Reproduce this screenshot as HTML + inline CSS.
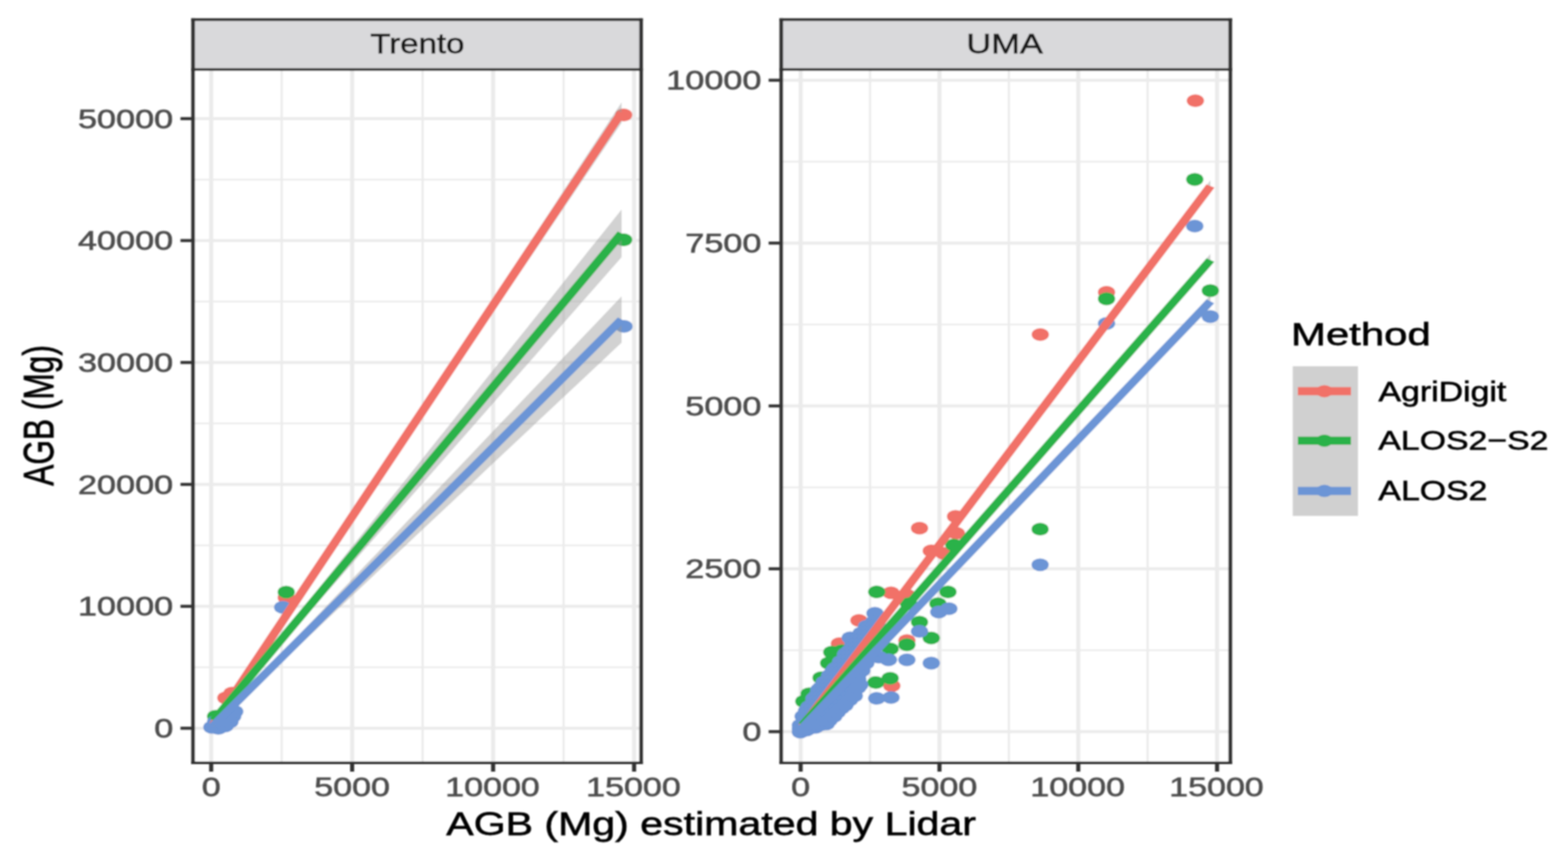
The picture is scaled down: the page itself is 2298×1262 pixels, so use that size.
<!DOCTYPE html>
<html><head><meta charset="utf-8"><title>AGB plot</title><style>html,body{margin:0;padding:0;background:#fff;}svg{display:block;}</style></head><body>
<svg width="2298" height="1262" viewBox="0 0 2298 1262" font-family="&quot;Liberation Sans&quot;, Arial, sans-serif">
<rect width="2298" height="1262" fill="#ffffff"/>
<defs><filter id="bl" x="-5%" y="-5%" width="110%" height="110%"><feGaussianBlur stdDeviation="1.2"/></filter></defs>
<g filter="url(#bl)">
<rect x="283.0" y="101.9" width="656.5" height="1016.1" fill="#ffffff"/>
<rect x="1145.0" y="101.9" width="658.0" height="1016.1" fill="#ffffff"/>
<rect x="411.20" y="101.9" width="3.2" height="1016.1" fill="#ebebeb"/>
<rect x="617.80" y="101.9" width="3.2" height="1016.1" fill="#ebebeb"/>
<rect x="824.40" y="101.9" width="3.2" height="1016.1" fill="#ebebeb"/>
<rect x="283.0" y="976.85" width="656.5" height="2.4" fill="#ebebeb"/>
<rect x="283.0" y="798.15" width="656.5" height="2.4" fill="#ebebeb"/>
<rect x="283.0" y="619.45" width="656.5" height="2.4" fill="#ebebeb"/>
<rect x="283.0" y="440.75" width="656.5" height="2.4" fill="#ebebeb"/>
<rect x="283.0" y="262.05" width="656.5" height="2.4" fill="#ebebeb"/>
<rect x="306.50" y="101.9" width="6.0" height="1016.1" fill="#ebebeb"/>
<rect x="513.10" y="101.9" width="6.0" height="1016.1" fill="#ebebeb"/>
<rect x="719.70" y="101.9" width="6.0" height="1016.1" fill="#ebebeb"/>
<rect x="926.30" y="101.9" width="6.0" height="1016.1" fill="#ebebeb"/>
<rect x="283.0" y="1065.20" width="656.5" height="4.4" fill="#ebebeb"/>
<rect x="283.0" y="886.50" width="656.5" height="4.4" fill="#ebebeb"/>
<rect x="283.0" y="707.80" width="656.5" height="4.4" fill="#ebebeb"/>
<rect x="283.0" y="529.10" width="656.5" height="4.4" fill="#ebebeb"/>
<rect x="283.0" y="350.40" width="656.5" height="4.4" fill="#ebebeb"/>
<rect x="283.0" y="171.70" width="656.5" height="4.4" fill="#ebebeb"/>
<rect x="1273.52" y="101.9" width="3.2" height="1016.1" fill="#ebebeb"/>
<rect x="1476.95" y="101.9" width="3.2" height="1016.1" fill="#ebebeb"/>
<rect x="1680.38" y="101.9" width="3.2" height="1016.1" fill="#ebebeb"/>
<rect x="1145.0" y="951.85" width="658.0" height="2.4" fill="#ebebeb"/>
<rect x="1145.0" y="713.15" width="658.0" height="2.4" fill="#ebebeb"/>
<rect x="1145.0" y="474.45" width="658.0" height="2.4" fill="#ebebeb"/>
<rect x="1145.0" y="235.75" width="658.0" height="2.4" fill="#ebebeb"/>
<rect x="1170.40" y="101.9" width="6.0" height="1016.1" fill="#ebebeb"/>
<rect x="1373.83" y="101.9" width="6.0" height="1016.1" fill="#ebebeb"/>
<rect x="1577.27" y="101.9" width="6.0" height="1016.1" fill="#ebebeb"/>
<rect x="1780.70" y="101.9" width="6.0" height="1016.1" fill="#ebebeb"/>
<rect x="1145.0" y="1070.20" width="658.0" height="4.4" fill="#ebebeb"/>
<rect x="1145.0" y="831.50" width="658.0" height="4.4" fill="#ebebeb"/>
<rect x="1145.0" y="592.80" width="658.0" height="4.4" fill="#ebebeb"/>
<rect x="1145.0" y="354.10" width="658.0" height="4.4" fill="#ebebeb"/>
<rect x="1145.0" y="115.40" width="658.0" height="4.4" fill="#ebebeb"/>
<ellipse cx="331.0" cy="1023.0" rx="12.69" ry="9.40" fill="#F17167"/>
<ellipse cx="340.0" cy="1016.0" rx="12.69" ry="9.40" fill="#F17167"/>
<ellipse cx="419.5" cy="876.0" rx="12.69" ry="9.40" fill="#F17167"/>
<ellipse cx="914.0" cy="168.5" rx="12.69" ry="9.40" fill="#F17167"/>
<ellipse cx="316.0" cy="1050.0" rx="12.69" ry="9.40" fill="#2AB248"/>
<ellipse cx="419.5" cy="867.8" rx="12.69" ry="9.40" fill="#2AB248"/>
<ellipse cx="914.0" cy="351.5" rx="12.69" ry="9.40" fill="#2AB248"/>
<ellipse cx="310.5" cy="1066.0" rx="12.69" ry="9.40" fill="#6C95D6"/>
<ellipse cx="320.0" cy="1067.5" rx="12.69" ry="9.40" fill="#6C95D6"/>
<ellipse cx="330.0" cy="1064.0" rx="12.69" ry="9.40" fill="#6C95D6"/>
<ellipse cx="337.0" cy="1058.0" rx="12.69" ry="9.40" fill="#6C95D6"/>
<ellipse cx="341.0" cy="1050.0" rx="12.69" ry="9.40" fill="#6C95D6"/>
<ellipse cx="344.0" cy="1043.0" rx="12.69" ry="9.40" fill="#6C95D6"/>
<ellipse cx="316.0" cy="1058.0" rx="12.69" ry="9.40" fill="#6C95D6"/>
<ellipse cx="326.0" cy="1055.0" rx="12.69" ry="9.40" fill="#6C95D6"/>
<ellipse cx="334.0" cy="1049.0" rx="12.69" ry="9.40" fill="#6C95D6"/>
<ellipse cx="414.3" cy="890.2" rx="12.69" ry="9.40" fill="#6C95D6"/>
<ellipse cx="914.5" cy="478.4" rx="12.69" ry="9.40" fill="#6C95D6"/>
<polygon points="313.0,1060.4 327.9,1037.8 342.9,1015.2 357.9,992.6 372.8,969.9 387.8,947.2 402.7,924.4 417.6,901.7 432.6,878.9 447.6,856.2 462.5,833.4 477.4,810.6 492.4,787.9 507.4,765.1 522.3,742.3 537.2,719.5 552.2,696.8 567.1,674.0 582.1,651.2 597.0,628.4 612.0,605.6 627.0,582.8 641.9,560.1 656.9,537.3 671.8,514.5 686.8,491.7 701.7,468.9 716.6,446.1 731.6,423.4 746.5,400.6 761.5,377.8 776.5,355.0 791.4,332.2 806.4,309.4 821.3,286.6 836.2,263.8 851.2,241.1 866.1,218.3 881.1,195.5 896.0,172.7 911.0,149.9 911.0,179.9 896.0,202.0 881.1,224.0 866.1,246.1 851.2,268.1 836.2,290.2 821.3,312.3 806.4,334.3 791.4,356.4 776.5,378.5 761.5,400.5 746.5,422.6 731.6,444.6 716.6,466.7 701.7,488.8 686.8,510.8 671.8,532.9 656.9,555.0 641.9,577.0 627.0,599.1 612.0,621.2 597.0,643.2 582.1,665.3 567.1,687.4 552.2,709.4 537.2,731.5 522.3,753.6 507.4,775.7 492.4,797.7 477.4,819.8 462.5,841.9 447.6,864.0 432.6,886.1 417.6,908.2 402.7,930.3 387.8,952.4 372.8,974.5 357.9,996.7 342.9,1018.9 327.9,1041.1 313.0,1063.4" fill="#999999" fill-opacity="0.44"/>
<g transform="scale(1.35,1)"><line x1="231.852" y1="1061.90" x2="674.815" y2="164.90" stroke="#F17167" stroke-width="10.0" stroke-linecap="butt"/></g>
<polygon points="313.0,1053.4 327.9,1035.2 342.9,1016.8 357.9,998.3 372.8,979.7 387.8,961.1 402.7,942.5 417.6,923.9 432.6,905.2 447.6,886.6 462.5,867.9 477.4,849.2 492.4,830.5 507.4,811.8 522.3,793.2 537.2,774.5 552.2,755.8 567.1,737.1 582.1,718.4 597.0,699.7 612.0,681.0 627.0,662.3 641.9,643.6 656.9,624.9 671.8,606.2 686.8,587.5 701.7,568.8 716.6,550.1 731.6,531.4 746.5,512.7 761.5,494.0 776.5,475.3 791.4,456.6 806.4,437.9 821.3,419.2 836.2,400.5 851.2,381.8 866.1,363.1 881.1,344.4 896.0,325.7 911.0,307.0 911.0,377.0 896.0,394.0 881.1,411.0 866.1,428.0 851.2,445.0 836.2,462.0 821.3,479.0 806.4,496.0 791.4,513.0 776.5,530.0 761.5,547.0 746.5,564.0 731.6,581.0 716.6,598.0 701.7,615.0 686.8,632.0 671.8,649.0 656.9,666.0 641.9,683.0 627.0,700.0 612.0,717.0 597.0,734.0 582.1,751.0 567.1,768.0 552.2,785.0 537.2,802.0 522.3,819.0 507.4,836.1 492.4,853.1 477.4,870.1 462.5,887.1 447.6,904.1 432.6,921.2 417.6,938.2 402.7,955.3 387.8,972.4 372.8,989.5 357.9,1006.6 342.9,1023.8 327.9,1041.1 313.0,1058.6" fill="#999999" fill-opacity="0.44"/>
<g transform="scale(1.35,1)"><line x1="231.852" y1="1056.00" x2="674.815" y2="342.00" stroke="#2AB248" stroke-width="10.0" stroke-linecap="butt"/></g>
<polygon points="313.0,1060.4 327.9,1045.2 342.9,1029.8 357.9,1014.3 372.8,998.8 387.8,983.2 402.7,967.6 417.6,951.9 432.6,936.3 447.6,920.6 462.5,905.0 477.4,889.3 492.4,873.6 507.4,857.9 522.3,842.3 537.2,826.6 552.2,810.9 567.1,795.2 582.1,779.5 597.0,763.8 612.0,748.2 627.0,732.5 641.9,716.8 656.9,701.1 671.8,685.4 686.8,669.7 701.7,654.0 716.6,638.3 731.6,622.6 746.5,606.9 761.5,591.2 776.5,575.5 791.4,559.9 806.4,544.2 821.3,528.5 836.2,512.8 851.2,497.1 866.1,481.4 881.1,465.7 896.0,450.0 911.0,434.3 911.0,502.3 896.0,516.3 881.1,530.4 866.1,544.4 851.2,558.5 836.2,572.5 821.3,586.5 806.4,600.6 791.4,614.6 776.5,628.7 761.5,642.7 746.5,656.7 731.6,670.8 716.6,684.8 701.7,698.9 686.8,712.9 671.8,727.0 656.9,741.0 641.9,755.1 627.0,769.1 612.0,783.1 597.0,797.2 582.1,811.2 567.1,825.3 552.2,839.3 537.2,853.4 522.3,867.4 507.4,881.5 492.4,895.6 477.4,909.6 462.5,923.7 447.6,937.8 432.6,951.8 417.6,965.9 402.7,980.0 387.8,994.1 372.8,1008.3 357.9,1022.5 342.9,1036.7 327.9,1051.1 313.0,1065.6" fill="#999999" fill-opacity="0.44"/>
<g transform="scale(1.35,1)"><line x1="231.852" y1="1063.00" x2="674.815" y2="468.30" stroke="#6C95D6" stroke-width="10.0" stroke-linecap="butt"/></g>
<ellipse cx="1751.9" cy="147.6" rx="12.69" ry="9.40" fill="#F17167"/>
<ellipse cx="1621.7" cy="428.5" rx="12.69" ry="9.40" fill="#F17167"/>
<ellipse cx="1524.6" cy="490.3" rx="12.69" ry="9.40" fill="#F17167"/>
<ellipse cx="1347.6" cy="774.2" rx="12.69" ry="9.40" fill="#F17167"/>
<ellipse cx="1400.4" cy="757.0" rx="12.69" ry="9.40" fill="#F17167"/>
<ellipse cx="1401.6" cy="781.6" rx="12.69" ry="9.40" fill="#F17167"/>
<ellipse cx="1364.8" cy="807.4" rx="12.69" ry="9.40" fill="#F17167"/>
<ellipse cx="1383.2" cy="811.1" rx="12.69" ry="9.40" fill="#F17167"/>
<ellipse cx="1305.8" cy="868.8" rx="12.69" ry="9.40" fill="#F17167"/>
<ellipse cx="1329.1" cy="872.5" rx="12.69" ry="9.40" fill="#F17167"/>
<ellipse cx="1329.1" cy="938.8" rx="12.69" ry="9.40" fill="#F17167"/>
<ellipse cx="1307.0" cy="1005.2" rx="12.69" ry="9.40" fill="#F17167"/>
<ellipse cx="1258.8" cy="909.3" rx="12.69" ry="9.40" fill="#F17167"/>
<ellipse cx="1230.2" cy="943.5" rx="12.69" ry="9.40" fill="#F17167"/>
<ellipse cx="1751.0" cy="263.0" rx="12.69" ry="9.40" fill="#2AB248"/>
<ellipse cx="1621.7" cy="438.0" rx="12.69" ry="9.40" fill="#2AB248"/>
<ellipse cx="1773.8" cy="426.0" rx="12.69" ry="9.40" fill="#2AB248"/>
<ellipse cx="1524.4" cy="775.7" rx="12.69" ry="9.40" fill="#2AB248"/>
<ellipse cx="1397.9" cy="798.8" rx="12.69" ry="9.40" fill="#2AB248"/>
<ellipse cx="1284.9" cy="867.6" rx="12.69" ry="9.40" fill="#2AB248"/>
<ellipse cx="1331.6" cy="884.8" rx="12.69" ry="9.40" fill="#2AB248"/>
<ellipse cx="1389.3" cy="867.6" rx="12.69" ry="9.40" fill="#2AB248"/>
<ellipse cx="1374.6" cy="884.8" rx="12.69" ry="9.40" fill="#2AB248"/>
<ellipse cx="1347.6" cy="911.8" rx="12.69" ry="9.40" fill="#2AB248"/>
<ellipse cx="1364.8" cy="935.2" rx="12.69" ry="9.40" fill="#2AB248"/>
<ellipse cx="1329.1" cy="945.0" rx="12.69" ry="9.40" fill="#2AB248"/>
<ellipse cx="1304.6" cy="951.1" rx="12.69" ry="9.40" fill="#2AB248"/>
<ellipse cx="1304.6" cy="994.1" rx="12.69" ry="9.40" fill="#2AB248"/>
<ellipse cx="1283.7" cy="1000.3" rx="12.69" ry="9.40" fill="#2AB248"/>
<ellipse cx="1219.0" cy="956.0" rx="12.69" ry="9.40" fill="#2AB248"/>
<ellipse cx="1233.4" cy="953.8" rx="12.69" ry="9.40" fill="#2AB248"/>
<ellipse cx="1245.3" cy="956.0" rx="12.69" ry="9.40" fill="#2AB248"/>
<ellipse cx="1253.0" cy="950.0" rx="12.69" ry="9.40" fill="#2AB248"/>
<ellipse cx="1214.4" cy="972.0" rx="12.69" ry="9.40" fill="#2AB248"/>
<ellipse cx="1203.3" cy="993.4" rx="12.69" ry="9.40" fill="#2AB248"/>
<ellipse cx="1185.8" cy="1017.0" rx="12.69" ry="9.40" fill="#2AB248"/>
<ellipse cx="1178.0" cy="1028.0" rx="12.69" ry="9.40" fill="#2AB248"/>
<ellipse cx="1751.0" cy="331.4" rx="12.69" ry="9.40" fill="#6C95D6"/>
<ellipse cx="1621.7" cy="474.1" rx="12.69" ry="9.40" fill="#6C95D6"/>
<ellipse cx="1773.8" cy="464.0" rx="12.69" ry="9.40" fill="#6C95D6"/>
<ellipse cx="1524.4" cy="827.8" rx="12.69" ry="9.40" fill="#6C95D6"/>
<ellipse cx="1375.8" cy="897.1" rx="12.69" ry="9.40" fill="#6C95D6"/>
<ellipse cx="1390.6" cy="892.2" rx="12.69" ry="9.40" fill="#6C95D6"/>
<ellipse cx="1347.6" cy="925.3" rx="12.69" ry="9.40" fill="#6C95D6"/>
<ellipse cx="1302.1" cy="967.1" rx="12.69" ry="9.40" fill="#6C95D6"/>
<ellipse cx="1329.1" cy="967.1" rx="12.69" ry="9.40" fill="#6C95D6"/>
<ellipse cx="1364.8" cy="972.0" rx="12.69" ry="9.40" fill="#6C95D6"/>
<ellipse cx="1305.8" cy="1022.4" rx="12.69" ry="9.40" fill="#6C95D6"/>
<ellipse cx="1284.9" cy="1023.6" rx="12.69" ry="9.40" fill="#6C95D6"/>
<ellipse cx="1282.3" cy="899.0" rx="12.69" ry="9.40" fill="#6C95D6"/>
<ellipse cx="1282.3" cy="911.0" rx="12.69" ry="9.40" fill="#6C95D6"/>
<ellipse cx="1246.0" cy="934.8" rx="12.69" ry="9.40" fill="#6C95D6"/>
<ellipse cx="1288.1" cy="963.2" rx="12.69" ry="9.40" fill="#6C95D6"/>
<ellipse cx="1173.0" cy="1073.0" rx="12.69" ry="9.40" fill="#6C95D6"/>
<ellipse cx="1173.0" cy="1063.0" rx="12.69" ry="9.40" fill="#6C95D6"/>
<ellipse cx="1177.0" cy="1050.0" rx="12.69" ry="9.40" fill="#6C95D6"/>
<ellipse cx="1182.0" cy="1042.0" rx="12.69" ry="9.40" fill="#6C95D6"/>
<ellipse cx="1186.0" cy="1036.0" rx="12.69" ry="9.40" fill="#6C95D6"/>
<ellipse cx="1193.0" cy="1024.0" rx="12.69" ry="9.40" fill="#6C95D6"/>
<ellipse cx="1200.0" cy="1011.0" rx="12.69" ry="9.40" fill="#6C95D6"/>
<ellipse cx="1208.0" cy="1000.0" rx="12.69" ry="9.40" fill="#6C95D6"/>
<ellipse cx="1216.0" cy="990.0" rx="12.69" ry="9.40" fill="#6C95D6"/>
<ellipse cx="1224.0" cy="980.0" rx="12.69" ry="9.40" fill="#6C95D6"/>
<ellipse cx="1232.0" cy="970.0" rx="12.69" ry="9.40" fill="#6C95D6"/>
<ellipse cx="1240.0" cy="958.0" rx="12.69" ry="9.40" fill="#6C95D6"/>
<ellipse cx="1250.0" cy="945.0" rx="12.69" ry="9.40" fill="#6C95D6"/>
<ellipse cx="1262.0" cy="928.0" rx="12.69" ry="9.40" fill="#6C95D6"/>
<ellipse cx="1270.0" cy="918.0" rx="12.69" ry="9.40" fill="#6C95D6"/>
<ellipse cx="1280.0" cy="912.0" rx="12.69" ry="9.40" fill="#6C95D6"/>
<ellipse cx="1285.0" cy="915.0" rx="12.69" ry="9.40" fill="#6C95D6"/>
<ellipse cx="1282.0" cy="940.0" rx="12.69" ry="9.40" fill="#6C95D6"/>
<ellipse cx="1277.0" cy="962.0" rx="12.69" ry="9.40" fill="#6C95D6"/>
<ellipse cx="1263.0" cy="983.0" rx="12.69" ry="9.40" fill="#6C95D6"/>
<ellipse cx="1260.0" cy="1004.0" rx="12.69" ry="9.40" fill="#6C95D6"/>
<ellipse cx="1252.0" cy="1020.0" rx="12.69" ry="9.40" fill="#6C95D6"/>
<ellipse cx="1238.0" cy="1034.0" rx="12.69" ry="9.40" fill="#6C95D6"/>
<ellipse cx="1222.0" cy="1050.0" rx="12.69" ry="9.40" fill="#6C95D6"/>
<ellipse cx="1211.0" cy="1061.0" rx="12.69" ry="9.40" fill="#6C95D6"/>
<ellipse cx="1195.0" cy="1066.0" rx="12.69" ry="9.40" fill="#6C95D6"/>
<ellipse cx="1182.0" cy="1070.0" rx="12.69" ry="9.40" fill="#6C95D6"/>
<ellipse cx="1173.0" cy="1068.0" rx="12.69" ry="9.40" fill="#6C95D6"/>
<ellipse cx="1179.0" cy="1050.0" rx="12.69" ry="9.40" fill="#6C95D6"/>
<ellipse cx="1179.0" cy="1056.0" rx="12.69" ry="9.40" fill="#6C95D6"/>
<ellipse cx="1179.0" cy="1062.0" rx="12.69" ry="9.40" fill="#6C95D6"/>
<ellipse cx="1179.0" cy="1068.0" rx="12.69" ry="9.40" fill="#6C95D6"/>
<ellipse cx="1185.0" cy="1038.0" rx="12.69" ry="9.40" fill="#6C95D6"/>
<ellipse cx="1185.0" cy="1044.0" rx="12.69" ry="9.40" fill="#6C95D6"/>
<ellipse cx="1185.0" cy="1050.0" rx="12.69" ry="9.40" fill="#6C95D6"/>
<ellipse cx="1185.0" cy="1056.0" rx="12.69" ry="9.40" fill="#6C95D6"/>
<ellipse cx="1185.0" cy="1062.0" rx="12.69" ry="9.40" fill="#6C95D6"/>
<ellipse cx="1185.0" cy="1068.0" rx="12.69" ry="9.40" fill="#6C95D6"/>
<ellipse cx="1191.0" cy="1032.0" rx="12.69" ry="9.40" fill="#6C95D6"/>
<ellipse cx="1191.0" cy="1038.0" rx="12.69" ry="9.40" fill="#6C95D6"/>
<ellipse cx="1191.0" cy="1044.0" rx="12.69" ry="9.40" fill="#6C95D6"/>
<ellipse cx="1191.0" cy="1050.0" rx="12.69" ry="9.40" fill="#6C95D6"/>
<ellipse cx="1191.0" cy="1056.0" rx="12.69" ry="9.40" fill="#6C95D6"/>
<ellipse cx="1191.0" cy="1062.0" rx="12.69" ry="9.40" fill="#6C95D6"/>
<ellipse cx="1197.0" cy="1020.0" rx="12.69" ry="9.40" fill="#6C95D6"/>
<ellipse cx="1197.0" cy="1026.0" rx="12.69" ry="9.40" fill="#6C95D6"/>
<ellipse cx="1197.0" cy="1032.0" rx="12.69" ry="9.40" fill="#6C95D6"/>
<ellipse cx="1197.0" cy="1038.0" rx="12.69" ry="9.40" fill="#6C95D6"/>
<ellipse cx="1197.0" cy="1044.0" rx="12.69" ry="9.40" fill="#6C95D6"/>
<ellipse cx="1197.0" cy="1050.0" rx="12.69" ry="9.40" fill="#6C95D6"/>
<ellipse cx="1197.0" cy="1056.0" rx="12.69" ry="9.40" fill="#6C95D6"/>
<ellipse cx="1197.0" cy="1062.0" rx="12.69" ry="9.40" fill="#6C95D6"/>
<ellipse cx="1203.0" cy="1008.0" rx="12.69" ry="9.40" fill="#6C95D6"/>
<ellipse cx="1203.0" cy="1014.0" rx="12.69" ry="9.40" fill="#6C95D6"/>
<ellipse cx="1203.0" cy="1020.0" rx="12.69" ry="9.40" fill="#6C95D6"/>
<ellipse cx="1203.0" cy="1026.0" rx="12.69" ry="9.40" fill="#6C95D6"/>
<ellipse cx="1203.0" cy="1032.0" rx="12.69" ry="9.40" fill="#6C95D6"/>
<ellipse cx="1203.0" cy="1038.0" rx="12.69" ry="9.40" fill="#6C95D6"/>
<ellipse cx="1203.0" cy="1044.0" rx="12.69" ry="9.40" fill="#6C95D6"/>
<ellipse cx="1203.0" cy="1050.0" rx="12.69" ry="9.40" fill="#6C95D6"/>
<ellipse cx="1203.0" cy="1056.0" rx="12.69" ry="9.40" fill="#6C95D6"/>
<ellipse cx="1203.0" cy="1062.0" rx="12.69" ry="9.40" fill="#6C95D6"/>
<ellipse cx="1209.0" cy="1002.0" rx="12.69" ry="9.40" fill="#6C95D6"/>
<ellipse cx="1209.0" cy="1008.0" rx="12.69" ry="9.40" fill="#6C95D6"/>
<ellipse cx="1209.0" cy="1014.0" rx="12.69" ry="9.40" fill="#6C95D6"/>
<ellipse cx="1209.0" cy="1020.0" rx="12.69" ry="9.40" fill="#6C95D6"/>
<ellipse cx="1209.0" cy="1026.0" rx="12.69" ry="9.40" fill="#6C95D6"/>
<ellipse cx="1209.0" cy="1032.0" rx="12.69" ry="9.40" fill="#6C95D6"/>
<ellipse cx="1209.0" cy="1038.0" rx="12.69" ry="9.40" fill="#6C95D6"/>
<ellipse cx="1209.0" cy="1044.0" rx="12.69" ry="9.40" fill="#6C95D6"/>
<ellipse cx="1209.0" cy="1050.0" rx="12.69" ry="9.40" fill="#6C95D6"/>
<ellipse cx="1209.0" cy="1056.0" rx="12.69" ry="9.40" fill="#6C95D6"/>
<ellipse cx="1215.0" cy="996.0" rx="12.69" ry="9.40" fill="#6C95D6"/>
<ellipse cx="1215.0" cy="1002.0" rx="12.69" ry="9.40" fill="#6C95D6"/>
<ellipse cx="1215.0" cy="1008.0" rx="12.69" ry="9.40" fill="#6C95D6"/>
<ellipse cx="1215.0" cy="1014.0" rx="12.69" ry="9.40" fill="#6C95D6"/>
<ellipse cx="1215.0" cy="1020.0" rx="12.69" ry="9.40" fill="#6C95D6"/>
<ellipse cx="1215.0" cy="1026.0" rx="12.69" ry="9.40" fill="#6C95D6"/>
<ellipse cx="1215.0" cy="1032.0" rx="12.69" ry="9.40" fill="#6C95D6"/>
<ellipse cx="1215.0" cy="1038.0" rx="12.69" ry="9.40" fill="#6C95D6"/>
<ellipse cx="1215.0" cy="1044.0" rx="12.69" ry="9.40" fill="#6C95D6"/>
<ellipse cx="1215.0" cy="1050.0" rx="12.69" ry="9.40" fill="#6C95D6"/>
<ellipse cx="1215.0" cy="1056.0" rx="12.69" ry="9.40" fill="#6C95D6"/>
<ellipse cx="1221.0" cy="984.0" rx="12.69" ry="9.40" fill="#6C95D6"/>
<ellipse cx="1221.0" cy="990.0" rx="12.69" ry="9.40" fill="#6C95D6"/>
<ellipse cx="1221.0" cy="996.0" rx="12.69" ry="9.40" fill="#6C95D6"/>
<ellipse cx="1221.0" cy="1002.0" rx="12.69" ry="9.40" fill="#6C95D6"/>
<ellipse cx="1221.0" cy="1008.0" rx="12.69" ry="9.40" fill="#6C95D6"/>
<ellipse cx="1221.0" cy="1014.0" rx="12.69" ry="9.40" fill="#6C95D6"/>
<ellipse cx="1221.0" cy="1020.0" rx="12.69" ry="9.40" fill="#6C95D6"/>
<ellipse cx="1221.0" cy="1026.0" rx="12.69" ry="9.40" fill="#6C95D6"/>
<ellipse cx="1221.0" cy="1032.0" rx="12.69" ry="9.40" fill="#6C95D6"/>
<ellipse cx="1221.0" cy="1038.0" rx="12.69" ry="9.40" fill="#6C95D6"/>
<ellipse cx="1221.0" cy="1044.0" rx="12.69" ry="9.40" fill="#6C95D6"/>
<ellipse cx="1221.0" cy="1050.0" rx="12.69" ry="9.40" fill="#6C95D6"/>
<ellipse cx="1227.0" cy="978.0" rx="12.69" ry="9.40" fill="#6C95D6"/>
<ellipse cx="1227.0" cy="984.0" rx="12.69" ry="9.40" fill="#6C95D6"/>
<ellipse cx="1227.0" cy="990.0" rx="12.69" ry="9.40" fill="#6C95D6"/>
<ellipse cx="1227.0" cy="996.0" rx="12.69" ry="9.40" fill="#6C95D6"/>
<ellipse cx="1227.0" cy="1002.0" rx="12.69" ry="9.40" fill="#6C95D6"/>
<ellipse cx="1227.0" cy="1008.0" rx="12.69" ry="9.40" fill="#6C95D6"/>
<ellipse cx="1227.0" cy="1014.0" rx="12.69" ry="9.40" fill="#6C95D6"/>
<ellipse cx="1227.0" cy="1020.0" rx="12.69" ry="9.40" fill="#6C95D6"/>
<ellipse cx="1227.0" cy="1026.0" rx="12.69" ry="9.40" fill="#6C95D6"/>
<ellipse cx="1227.0" cy="1032.0" rx="12.69" ry="9.40" fill="#6C95D6"/>
<ellipse cx="1227.0" cy="1038.0" rx="12.69" ry="9.40" fill="#6C95D6"/>
<ellipse cx="1227.0" cy="1044.0" rx="12.69" ry="9.40" fill="#6C95D6"/>
<ellipse cx="1233.0" cy="972.0" rx="12.69" ry="9.40" fill="#6C95D6"/>
<ellipse cx="1233.0" cy="978.0" rx="12.69" ry="9.40" fill="#6C95D6"/>
<ellipse cx="1233.0" cy="984.0" rx="12.69" ry="9.40" fill="#6C95D6"/>
<ellipse cx="1233.0" cy="990.0" rx="12.69" ry="9.40" fill="#6C95D6"/>
<ellipse cx="1233.0" cy="996.0" rx="12.69" ry="9.40" fill="#6C95D6"/>
<ellipse cx="1233.0" cy="1002.0" rx="12.69" ry="9.40" fill="#6C95D6"/>
<ellipse cx="1233.0" cy="1008.0" rx="12.69" ry="9.40" fill="#6C95D6"/>
<ellipse cx="1233.0" cy="1014.0" rx="12.69" ry="9.40" fill="#6C95D6"/>
<ellipse cx="1233.0" cy="1020.0" rx="12.69" ry="9.40" fill="#6C95D6"/>
<ellipse cx="1233.0" cy="1026.0" rx="12.69" ry="9.40" fill="#6C95D6"/>
<ellipse cx="1233.0" cy="1032.0" rx="12.69" ry="9.40" fill="#6C95D6"/>
<ellipse cx="1233.0" cy="1038.0" rx="12.69" ry="9.40" fill="#6C95D6"/>
<ellipse cx="1239.0" cy="960.0" rx="12.69" ry="9.40" fill="#6C95D6"/>
<ellipse cx="1239.0" cy="966.0" rx="12.69" ry="9.40" fill="#6C95D6"/>
<ellipse cx="1239.0" cy="972.0" rx="12.69" ry="9.40" fill="#6C95D6"/>
<ellipse cx="1239.0" cy="978.0" rx="12.69" ry="9.40" fill="#6C95D6"/>
<ellipse cx="1239.0" cy="984.0" rx="12.69" ry="9.40" fill="#6C95D6"/>
<ellipse cx="1239.0" cy="990.0" rx="12.69" ry="9.40" fill="#6C95D6"/>
<ellipse cx="1239.0" cy="996.0" rx="12.69" ry="9.40" fill="#6C95D6"/>
<ellipse cx="1239.0" cy="1002.0" rx="12.69" ry="9.40" fill="#6C95D6"/>
<ellipse cx="1239.0" cy="1008.0" rx="12.69" ry="9.40" fill="#6C95D6"/>
<ellipse cx="1239.0" cy="1014.0" rx="12.69" ry="9.40" fill="#6C95D6"/>
<ellipse cx="1239.0" cy="1020.0" rx="12.69" ry="9.40" fill="#6C95D6"/>
<ellipse cx="1239.0" cy="1026.0" rx="12.69" ry="9.40" fill="#6C95D6"/>
<ellipse cx="1239.0" cy="1032.0" rx="12.69" ry="9.40" fill="#6C95D6"/>
<ellipse cx="1245.0" cy="954.0" rx="12.69" ry="9.40" fill="#6C95D6"/>
<ellipse cx="1245.0" cy="960.0" rx="12.69" ry="9.40" fill="#6C95D6"/>
<ellipse cx="1245.0" cy="966.0" rx="12.69" ry="9.40" fill="#6C95D6"/>
<ellipse cx="1245.0" cy="972.0" rx="12.69" ry="9.40" fill="#6C95D6"/>
<ellipse cx="1245.0" cy="978.0" rx="12.69" ry="9.40" fill="#6C95D6"/>
<ellipse cx="1245.0" cy="984.0" rx="12.69" ry="9.40" fill="#6C95D6"/>
<ellipse cx="1245.0" cy="990.0" rx="12.69" ry="9.40" fill="#6C95D6"/>
<ellipse cx="1245.0" cy="996.0" rx="12.69" ry="9.40" fill="#6C95D6"/>
<ellipse cx="1245.0" cy="1002.0" rx="12.69" ry="9.40" fill="#6C95D6"/>
<ellipse cx="1245.0" cy="1008.0" rx="12.69" ry="9.40" fill="#6C95D6"/>
<ellipse cx="1245.0" cy="1014.0" rx="12.69" ry="9.40" fill="#6C95D6"/>
<ellipse cx="1245.0" cy="1020.0" rx="12.69" ry="9.40" fill="#6C95D6"/>
<ellipse cx="1245.0" cy="1026.0" rx="12.69" ry="9.40" fill="#6C95D6"/>
<ellipse cx="1251.0" cy="948.0" rx="12.69" ry="9.40" fill="#6C95D6"/>
<ellipse cx="1251.0" cy="954.0" rx="12.69" ry="9.40" fill="#6C95D6"/>
<ellipse cx="1251.0" cy="960.0" rx="12.69" ry="9.40" fill="#6C95D6"/>
<ellipse cx="1251.0" cy="966.0" rx="12.69" ry="9.40" fill="#6C95D6"/>
<ellipse cx="1251.0" cy="972.0" rx="12.69" ry="9.40" fill="#6C95D6"/>
<ellipse cx="1251.0" cy="978.0" rx="12.69" ry="9.40" fill="#6C95D6"/>
<ellipse cx="1251.0" cy="984.0" rx="12.69" ry="9.40" fill="#6C95D6"/>
<ellipse cx="1251.0" cy="990.0" rx="12.69" ry="9.40" fill="#6C95D6"/>
<ellipse cx="1251.0" cy="996.0" rx="12.69" ry="9.40" fill="#6C95D6"/>
<ellipse cx="1251.0" cy="1002.0" rx="12.69" ry="9.40" fill="#6C95D6"/>
<ellipse cx="1251.0" cy="1008.0" rx="12.69" ry="9.40" fill="#6C95D6"/>
<ellipse cx="1251.0" cy="1014.0" rx="12.69" ry="9.40" fill="#6C95D6"/>
<ellipse cx="1251.0" cy="1020.0" rx="12.69" ry="9.40" fill="#6C95D6"/>
<ellipse cx="1257.0" cy="936.0" rx="12.69" ry="9.40" fill="#6C95D6"/>
<ellipse cx="1257.0" cy="942.0" rx="12.69" ry="9.40" fill="#6C95D6"/>
<ellipse cx="1257.0" cy="948.0" rx="12.69" ry="9.40" fill="#6C95D6"/>
<ellipse cx="1257.0" cy="954.0" rx="12.69" ry="9.40" fill="#6C95D6"/>
<ellipse cx="1257.0" cy="960.0" rx="12.69" ry="9.40" fill="#6C95D6"/>
<ellipse cx="1257.0" cy="966.0" rx="12.69" ry="9.40" fill="#6C95D6"/>
<ellipse cx="1257.0" cy="972.0" rx="12.69" ry="9.40" fill="#6C95D6"/>
<ellipse cx="1257.0" cy="978.0" rx="12.69" ry="9.40" fill="#6C95D6"/>
<ellipse cx="1257.0" cy="984.0" rx="12.69" ry="9.40" fill="#6C95D6"/>
<ellipse cx="1257.0" cy="990.0" rx="12.69" ry="9.40" fill="#6C95D6"/>
<ellipse cx="1257.0" cy="996.0" rx="12.69" ry="9.40" fill="#6C95D6"/>
<ellipse cx="1257.0" cy="1002.0" rx="12.69" ry="9.40" fill="#6C95D6"/>
<ellipse cx="1257.0" cy="1008.0" rx="12.69" ry="9.40" fill="#6C95D6"/>
<ellipse cx="1263.0" cy="930.0" rx="12.69" ry="9.40" fill="#6C95D6"/>
<ellipse cx="1263.0" cy="936.0" rx="12.69" ry="9.40" fill="#6C95D6"/>
<ellipse cx="1263.0" cy="942.0" rx="12.69" ry="9.40" fill="#6C95D6"/>
<ellipse cx="1263.0" cy="948.0" rx="12.69" ry="9.40" fill="#6C95D6"/>
<ellipse cx="1263.0" cy="954.0" rx="12.69" ry="9.40" fill="#6C95D6"/>
<ellipse cx="1263.0" cy="960.0" rx="12.69" ry="9.40" fill="#6C95D6"/>
<ellipse cx="1263.0" cy="966.0" rx="12.69" ry="9.40" fill="#6C95D6"/>
<ellipse cx="1263.0" cy="972.0" rx="12.69" ry="9.40" fill="#6C95D6"/>
<ellipse cx="1263.0" cy="978.0" rx="12.69" ry="9.40" fill="#6C95D6"/>
<ellipse cx="1269.0" cy="924.0" rx="12.69" ry="9.40" fill="#6C95D6"/>
<ellipse cx="1269.0" cy="930.0" rx="12.69" ry="9.40" fill="#6C95D6"/>
<ellipse cx="1269.0" cy="936.0" rx="12.69" ry="9.40" fill="#6C95D6"/>
<ellipse cx="1269.0" cy="942.0" rx="12.69" ry="9.40" fill="#6C95D6"/>
<ellipse cx="1269.0" cy="948.0" rx="12.69" ry="9.40" fill="#6C95D6"/>
<ellipse cx="1269.0" cy="954.0" rx="12.69" ry="9.40" fill="#6C95D6"/>
<ellipse cx="1269.0" cy="960.0" rx="12.69" ry="9.40" fill="#6C95D6"/>
<ellipse cx="1269.0" cy="966.0" rx="12.69" ry="9.40" fill="#6C95D6"/>
<ellipse cx="1269.0" cy="972.0" rx="12.69" ry="9.40" fill="#6C95D6"/>
<ellipse cx="1275.0" cy="918.0" rx="12.69" ry="9.40" fill="#6C95D6"/>
<ellipse cx="1275.0" cy="924.0" rx="12.69" ry="9.40" fill="#6C95D6"/>
<ellipse cx="1275.0" cy="930.0" rx="12.69" ry="9.40" fill="#6C95D6"/>
<ellipse cx="1275.0" cy="936.0" rx="12.69" ry="9.40" fill="#6C95D6"/>
<ellipse cx="1275.0" cy="942.0" rx="12.69" ry="9.40" fill="#6C95D6"/>
<ellipse cx="1275.0" cy="948.0" rx="12.69" ry="9.40" fill="#6C95D6"/>
<ellipse cx="1275.0" cy="954.0" rx="12.69" ry="9.40" fill="#6C95D6"/>
<ellipse cx="1275.0" cy="960.0" rx="12.69" ry="9.40" fill="#6C95D6"/>
<ellipse cx="1281.0" cy="918.0" rx="12.69" ry="9.40" fill="#6C95D6"/>
<ellipse cx="1281.0" cy="924.0" rx="12.69" ry="9.40" fill="#6C95D6"/>
<ellipse cx="1281.0" cy="930.0" rx="12.69" ry="9.40" fill="#6C95D6"/>
<ellipse cx="1281.0" cy="936.0" rx="12.69" ry="9.40" fill="#6C95D6"/>
<ellipse cx="1281.0" cy="942.0" rx="12.69" ry="9.40" fill="#6C95D6"/>
<polygon points="1176.0,1063.5 1191.0,1043.8 1205.9,1024.0 1220.8,1004.2 1235.8,984.3 1250.8,964.4 1265.7,944.4 1280.7,924.4 1295.6,904.5 1310.5,884.5 1325.5,864.5 1340.5,844.5 1355.4,824.5 1370.3,804.5 1385.3,784.5 1400.2,764.5 1415.2,744.5 1430.2,724.5 1445.1,704.5 1460.0,684.4 1475.0,664.4 1490.0,644.4 1504.9,624.4 1519.8,604.4 1534.8,584.4 1549.8,564.4 1564.7,544.3 1579.7,524.3 1594.6,504.3 1609.5,484.3 1624.5,464.3 1639.5,444.3 1654.4,424.2 1669.3,404.2 1684.3,384.2 1699.2,364.2 1714.2,344.2 1729.2,324.2 1744.1,304.1 1759.0,284.1 1774.0,264.1 1774.0,281.1 1759.0,300.7 1744.1,320.3 1729.2,339.8 1714.2,359.4 1699.2,379.0 1684.3,398.6 1669.3,418.2 1654.4,437.8 1639.5,457.3 1624.5,476.9 1609.5,496.5 1594.6,516.1 1579.7,535.7 1564.7,555.3 1549.8,574.8 1534.8,594.4 1519.8,614.0 1504.9,633.6 1490.0,653.2 1475.0,672.8 1460.0,692.4 1445.1,711.9 1430.2,731.5 1415.2,751.1 1400.2,770.7 1385.3,790.3 1370.3,809.9 1355.4,829.5 1340.5,849.1 1325.5,868.7 1310.5,888.3 1295.6,907.9 1280.7,927.6 1265.7,947.2 1250.8,966.8 1235.8,986.5 1220.8,1006.2 1205.9,1026.0 1191.0,1045.8 1176.0,1065.7" fill="#999999" fill-opacity="0.44"/>
<g transform="scale(1.35,1)"><line x1="871.111" y1="1064.60" x2="1314.074" y2="272.60" stroke="#F17167" stroke-width="10.0" stroke-linecap="butt"/></g>
<polygon points="1176.0,1061.7 1191.0,1044.7 1205.9,1027.7 1220.8,1010.6 1235.8,993.5 1250.8,976.3 1265.7,959.1 1280.7,941.9 1295.6,924.7 1310.5,907.4 1325.5,890.2 1340.5,872.9 1355.4,855.7 1370.3,838.4 1385.3,821.1 1400.2,803.9 1415.2,786.6 1430.2,769.4 1445.1,752.1 1460.0,734.8 1475.0,717.5 1490.0,700.3 1504.9,683.0 1519.8,665.7 1534.8,648.5 1549.8,631.2 1564.7,613.9 1579.7,596.7 1594.6,579.4 1609.5,562.1 1624.5,544.8 1639.5,527.6 1654.4,510.3 1669.3,493.0 1684.3,475.7 1699.2,458.5 1714.2,441.2 1729.2,423.9 1744.1,406.6 1759.0,389.4 1774.0,372.1 1774.0,390.1 1759.0,406.9 1744.1,423.7 1729.2,440.5 1714.2,457.3 1699.2,474.2 1684.3,491.0 1669.3,507.8 1654.4,524.6 1639.5,541.4 1624.5,558.2 1609.5,575.0 1594.6,591.8 1579.7,608.7 1564.7,625.5 1549.8,642.3 1534.8,659.1 1519.8,675.9 1504.9,692.7 1490.0,709.5 1475.0,726.4 1460.0,743.2 1445.1,760.0 1430.2,776.8 1415.2,793.6 1400.2,810.4 1385.3,827.3 1370.3,844.1 1355.4,860.9 1340.5,877.7 1325.5,894.6 1310.5,911.4 1295.6,928.3 1280.7,945.1 1265.7,962.0 1250.8,978.9 1235.8,995.8 1220.8,1012.7 1205.9,1029.7 1191.0,1046.8 1176.0,1063.9" fill="#999999" fill-opacity="0.44"/>
<g transform="scale(1.35,1)"><line x1="871.111" y1="1062.80" x2="1314.074" y2="381.10" stroke="#2AB248" stroke-width="10.0" stroke-linecap="butt"/></g>
<polygon points="1176.0,1065.4 1191.0,1049.9 1205.9,1034.3 1220.8,1018.6 1235.8,1002.9 1250.8,987.1 1265.7,971.3 1280.7,955.5 1295.6,939.7 1310.5,923.9 1325.5,908.1 1340.5,892.2 1355.4,876.4 1370.3,860.6 1385.3,844.7 1400.2,828.9 1415.2,813.0 1430.2,797.2 1445.1,781.3 1460.0,765.5 1475.0,749.6 1490.0,733.8 1504.9,717.9 1519.8,702.1 1534.8,686.2 1549.8,670.4 1564.7,654.5 1579.7,638.7 1594.6,622.8 1609.5,607.0 1624.5,591.1 1639.5,575.3 1654.4,559.4 1669.3,543.6 1684.3,527.7 1699.2,511.9 1714.2,496.0 1729.2,480.2 1744.1,464.3 1759.0,448.5 1774.0,432.6 1774.0,450.6 1759.0,466.0 1744.1,481.4 1729.2,496.8 1714.2,512.2 1699.2,527.6 1684.3,542.9 1669.3,558.3 1654.4,573.7 1639.5,589.1 1624.5,604.5 1609.5,619.9 1594.6,635.3 1579.7,650.7 1564.7,666.1 1549.8,681.5 1534.8,696.9 1519.8,712.3 1504.9,727.7 1490.0,743.1 1475.0,758.5 1460.0,773.8 1445.1,789.2 1430.2,804.6 1415.2,820.0 1400.2,835.4 1385.3,850.8 1370.3,866.2 1355.4,881.6 1340.5,897.1 1325.5,912.5 1310.5,927.9 1295.6,943.3 1280.7,958.7 1265.7,974.2 1250.8,989.7 1235.8,1005.2 1220.8,1020.7 1205.9,1036.3 1191.0,1051.9 1176.0,1067.6" fill="#999999" fill-opacity="0.44"/>
<g transform="scale(1.35,1)"><line x1="871.111" y1="1066.50" x2="1314.074" y2="441.60" stroke="#6C95D6" stroke-width="10.0" stroke-linecap="butt"/></g>
<rect x="283.0" y="28.8" width="656.5" height="73.10000000000001" fill="#d9d9db"/>
<rect x="280.3" y="26.8" width="5.4" height="1093.2" fill="#333333"/>
<rect x="936.8" y="26.8" width="5.4" height="1093.2" fill="#333333"/>
<rect x="280.3" y="26.8" width="661.9" height="4.0" fill="#333333"/>
<rect x="280.3" y="99.9" width="661.9" height="4.0" fill="#333333"/>
<rect x="280.3" y="1116.0" width="661.9" height="4.0" fill="#333333"/>
<rect x="1145.0" y="28.8" width="658.0" height="73.10000000000001" fill="#d9d9db"/>
<rect x="1142.3" y="26.8" width="5.4" height="1093.2" fill="#333333"/>
<rect x="1800.3" y="26.8" width="5.4" height="1093.2" fill="#333333"/>
<rect x="1142.3" y="26.8" width="663.4" height="4.0" fill="#333333"/>
<rect x="1142.3" y="99.9" width="663.4" height="4.0" fill="#333333"/>
<rect x="1142.3" y="1116.0" width="663.4" height="4.0" fill="#333333"/>
<rect x="264.50" y="1065.20" width="18.5" height="4.4" fill="#333333"/>
<rect x="264.50" y="886.50" width="18.5" height="4.4" fill="#333333"/>
<rect x="264.50" y="707.80" width="18.5" height="4.4" fill="#333333"/>
<rect x="264.50" y="529.10" width="18.5" height="4.4" fill="#333333"/>
<rect x="264.50" y="350.40" width="18.5" height="4.4" fill="#333333"/>
<rect x="264.50" y="171.70" width="18.5" height="4.4" fill="#333333"/>
<rect x="1126.50" y="1070.20" width="18.5" height="4.4" fill="#333333"/>
<rect x="1126.50" y="831.50" width="18.5" height="4.4" fill="#333333"/>
<rect x="1126.50" y="592.80" width="18.5" height="4.4" fill="#333333"/>
<rect x="1126.50" y="354.10" width="18.5" height="4.4" fill="#333333"/>
<rect x="1126.50" y="115.40" width="18.5" height="4.4" fill="#333333"/>
<rect x="306.50" y="1118.0" width="6.0" height="13.0" fill="#333333"/>
<rect x="513.10" y="1118.0" width="6.0" height="13.0" fill="#333333"/>
<rect x="719.70" y="1118.0" width="6.0" height="13.0" fill="#333333"/>
<rect x="926.30" y="1118.0" width="6.0" height="13.0" fill="#333333"/>
<rect x="1170.40" y="1118.0" width="6.0" height="13.0" fill="#333333"/>
<rect x="1373.83" y="1118.0" width="6.0" height="13.0" fill="#333333"/>
<rect x="1577.27" y="1118.0" width="6.0" height="13.0" fill="#333333"/>
<rect x="1780.70" y="1118.0" width="6.0" height="13.0" fill="#333333"/>
<text transform="translate(225.93,1081.00) scale(1.2700,1)" font-size="39.55" fill="#4d4d4d" stroke="#4d4d4d" stroke-width="0.8">0</text>
<text transform="translate(114.18,902.30) scale(1.2700,1)" font-size="39.55" fill="#4d4d4d" stroke="#4d4d4d" stroke-width="0.8">10000</text>
<text transform="translate(114.18,723.60) scale(1.2700,1)" font-size="39.55" fill="#4d4d4d" stroke="#4d4d4d" stroke-width="0.8">20000</text>
<text transform="translate(114.18,544.90) scale(1.2700,1)" font-size="39.55" fill="#4d4d4d" stroke="#4d4d4d" stroke-width="0.8">30000</text>
<text transform="translate(114.18,366.20) scale(1.2700,1)" font-size="39.55" fill="#4d4d4d" stroke="#4d4d4d" stroke-width="0.8">40000</text>
<text transform="translate(114.18,187.50) scale(1.2700,1)" font-size="39.55" fill="#4d4d4d" stroke="#4d4d4d" stroke-width="0.8">50000</text>
<text transform="translate(1088.03,1086.00) scale(1.2700,1)" font-size="39.55" fill="#4d4d4d" stroke="#4d4d4d" stroke-width="0.8">0</text>
<text transform="translate(1004.26,847.30) scale(1.2700,1)" font-size="39.55" fill="#4d4d4d" stroke="#4d4d4d" stroke-width="0.8">2500</text>
<text transform="translate(1004.26,608.60) scale(1.2700,1)" font-size="39.55" fill="#4d4d4d" stroke="#4d4d4d" stroke-width="0.8">5000</text>
<text transform="translate(1004.26,369.90) scale(1.2700,1)" font-size="39.55" fill="#4d4d4d" stroke="#4d4d4d" stroke-width="0.8">7500</text>
<text transform="translate(976.28,131.20) scale(1.2700,1)" font-size="39.55" fill="#4d4d4d" stroke="#4d4d4d" stroke-width="0.8">10000</text>
<text transform="translate(295.64,1167.21) scale(1.2700,1)" font-size="39.27" fill="#4d4d4d" stroke="#4d4d4d" stroke-width="0.8">0</text>
<text transform="translate(1159.54,1167.21) scale(1.2700,1)" font-size="39.27" fill="#4d4d4d" stroke="#4d4d4d" stroke-width="0.8">0</text>
<text transform="translate(460.62,1167.21) scale(1.2700,1)" font-size="39.27" fill="#4d4d4d" stroke="#4d4d4d" stroke-width="0.8">5000</text>
<text transform="translate(1321.36,1167.21) scale(1.2700,1)" font-size="39.27" fill="#4d4d4d" stroke="#4d4d4d" stroke-width="0.8">5000</text>
<text transform="translate(652.44,1167.21) scale(1.2700,1)" font-size="39.27" fill="#4d4d4d" stroke="#4d4d4d" stroke-width="0.8">10000</text>
<text transform="translate(1510.00,1167.21) scale(1.2700,1)" font-size="39.27" fill="#4d4d4d" stroke="#4d4d4d" stroke-width="0.8">10000</text>
<text transform="translate(859.04,1167.21) scale(1.2700,1)" font-size="39.27" fill="#4d4d4d" stroke="#4d4d4d" stroke-width="0.8">15000</text>
<text transform="translate(1713.44,1167.21) scale(1.2700,1)" font-size="39.27" fill="#4d4d4d" stroke="#4d4d4d" stroke-width="0.8">15000</text>
<text transform="translate(542.64,77.70) scale(1.1685,1)" font-size="41.42" fill="#1a1a1a" stroke="#1a1a1a" stroke-width="0.8">Trento</text>
<text transform="translate(1416.32,77.50) scale(1.2529,1)" font-size="40.26" fill="#1a1a1a" stroke="#1a1a1a" stroke-width="0.8">UMA</text>
<text transform="translate(653.98,1223.70) scale(1.2712,1)" font-size="47.38" fill="#000000" stroke="#000000" stroke-width="0.8">AGB (Mg) estimated by Lidar</text>
<text transform="translate(78.50,711.99) scale(1.3663,1) rotate(-90)" font-size="46.38" fill="#000000" stroke="#000000" stroke-width="0.8">AGB (Mg)</text>
<text transform="translate(1891.96,506.20) scale(1.3091,1)" font-size="46.95" fill="#000000" stroke="#000000" stroke-width="0.8">Method</text>
<rect x="1894.6" y="536.8" width="95.6" height="219.4" fill="#d0d0d0"/>
<rect x="1902" y="567.4" width="78" height="12" fill="#F17167"/>
<ellipse cx="1941.0" cy="573.4" rx="12.15" ry="9.00" fill="#F17167"/>
<rect x="1902" y="639.9" width="78" height="12" fill="#2AB248"/>
<ellipse cx="1941.0" cy="645.9" rx="12.15" ry="9.00" fill="#2AB248"/>
<rect x="1902" y="713.6" width="78" height="12" fill="#6C95D6"/>
<ellipse cx="1941.0" cy="719.6" rx="12.15" ry="9.00" fill="#6C95D6"/>
<text transform="translate(2020.30,587.50) scale(1.2181,1)" font-size="40.70" fill="#000000" stroke="#000000" stroke-width="0.8">AgriDigit</text>
<text transform="translate(2020.10,659.10) scale(1.2482,1)" font-size="39.68" fill="#000000" stroke="#000000" stroke-width="0.8">ALOS2−S2</text>
<text transform="translate(2020.10,732.80) scale(1.2091,1)" font-size="40.99" fill="#000000" stroke="#000000" stroke-width="0.8">ALOS2</text>
</g>
</svg>
</body></html>
